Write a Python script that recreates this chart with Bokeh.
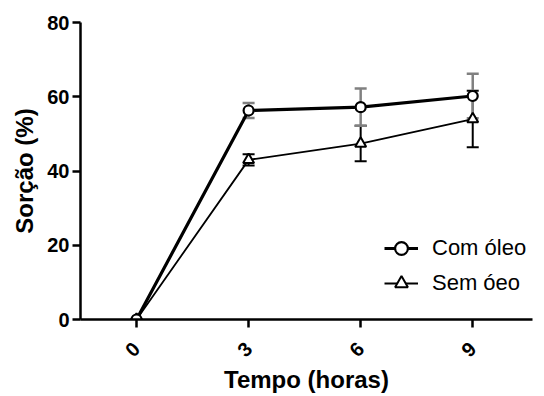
import math
from bokeh.plotting import figure
from bokeh.models import (ColumnDataSource, Whisker, TeeHead, FixedTicker, Legend, LegendItem, Range1d)
from bokeh.embed import file_html
from bokeh.resources import INLINE

hours = [0, 3, 6, 9]
com_oleo = [0, 56.3, 57.2, 60.2]
com_oleo_err = [0, 2.0, 5.0, 6.0]
sem_oleo = [0, 43.0, 47.4, 54.0]
sem_oleo_err = [0, 1.5, 4.8, 7.6]
y_ticks = [0, 20, 40, 60, 80]

FONT = "Liberation Sans"

p = figure(width=544, height=396, output_backend="svg", toolbar_location=None,
           x_range=Range1d(-1.5, 10.6), y_range=Range1d(0, 80),
           min_border_left=80, min_border_right=12, min_border_top=22, min_border_bottom=75)
p.outline_line_color = None
p.xgrid.visible = False
p.ygrid.visible = False
p.background_fill_color = "white"
p.border_fill_color = "white"

def src(y, e):
    return ColumnDataSource(dict(x=hours, y=y, lo=[a - b for a, b in zip(y, e)], hi=[a + b for a, b in zip(y, e)]))

s_sem = src(sem_oleo, sem_oleo_err)
s_com = src(com_oleo, com_oleo_err)

w_sem = Whisker(source=s_sem, base="x", upper="hi", lower="lo", line_color="black", line_width=2,
                upper_head=TeeHead(size=12, line_color="black", line_width=2),
                lower_head=TeeHead(size=12, line_color="black", line_width=2))
p.add_layout(w_sem)
l_sem = p.line("x", "y", source=s_sem, line_color="black", line_width=1.8)
m_sem = p.scatter("x", "y", source=s_sem, marker="triangle", size=11, fill_color="white",
                  line_color="black", line_width=2)

w_com = Whisker(source=s_com, base="x", upper="hi", lower="lo", line_color="#808080", line_width=2.5,
                upper_head=TeeHead(size=12, line_color="#808080", line_width=2.5),
                lower_head=TeeHead(size=12, line_color="#808080", line_width=2.5))
p.add_layout(w_com)
l_com = p.line("x", "y", source=s_com, line_color="black", line_width=3.2)
m_com = p.scatter("x", "y", source=s_com, marker="circle", size=10, fill_color="white",
                  line_color="black", line_width=2.2)

# axes
p.xaxis.ticker = FixedTicker(ticks=hours)
p.yaxis.ticker = FixedTicker(ticks=y_ticks)
for ax in (p.xaxis[0], p.yaxis[0]):
    ax.axis_line_width = 2.5
    ax.axis_line_color = "black"
    ax.major_tick_line_width = 2.5
    ax.major_tick_line_color = "black"
    ax.major_tick_out = 8
    ax.major_tick_in = 0
    ax.minor_tick_line_color = None
    ax.major_label_text_font = FONT
    ax.major_label_text_font_style = "bold"
    ax.major_label_text_font_size = "20px"
    ax.major_label_text_color = "black"
    ax.axis_label_text_font = FONT
    ax.axis_label_text_font_style = "bold"
    ax.axis_label_text_font_size = "24px"
    ax.axis_label_text_color = "black"
p.yaxis.major_label_standoff = 3
p.xaxis.major_label_orientation = math.pi / 4
p.xaxis.major_label_standoff = 18
p.xaxis.axis_label = "Tempo (horas)"
p.yaxis.axis_label = "Sorção (%)"
p.xaxis.axis_label_standoff = 0
p.yaxis.axis_label_standoff = 6

legend = Legend(items=[LegendItem(label="Com óleo", renderers=[l_com, m_com]),
                       LegendItem(label="Sem óeo", renderers=[l_sem, m_sem])],
                location=(304, 20), glyph_width=34, glyph_height=32, label_height=32, spacing=3,
                label_text_font=FONT, label_text_font_size="22px", label_text_color="black",
                label_standoff=14, background_fill_alpha=0, border_line_color=None,
                padding=6, margin=0)
p.add_layout(legend)

open("out.html", "w").write(file_html(p, INLINE))
